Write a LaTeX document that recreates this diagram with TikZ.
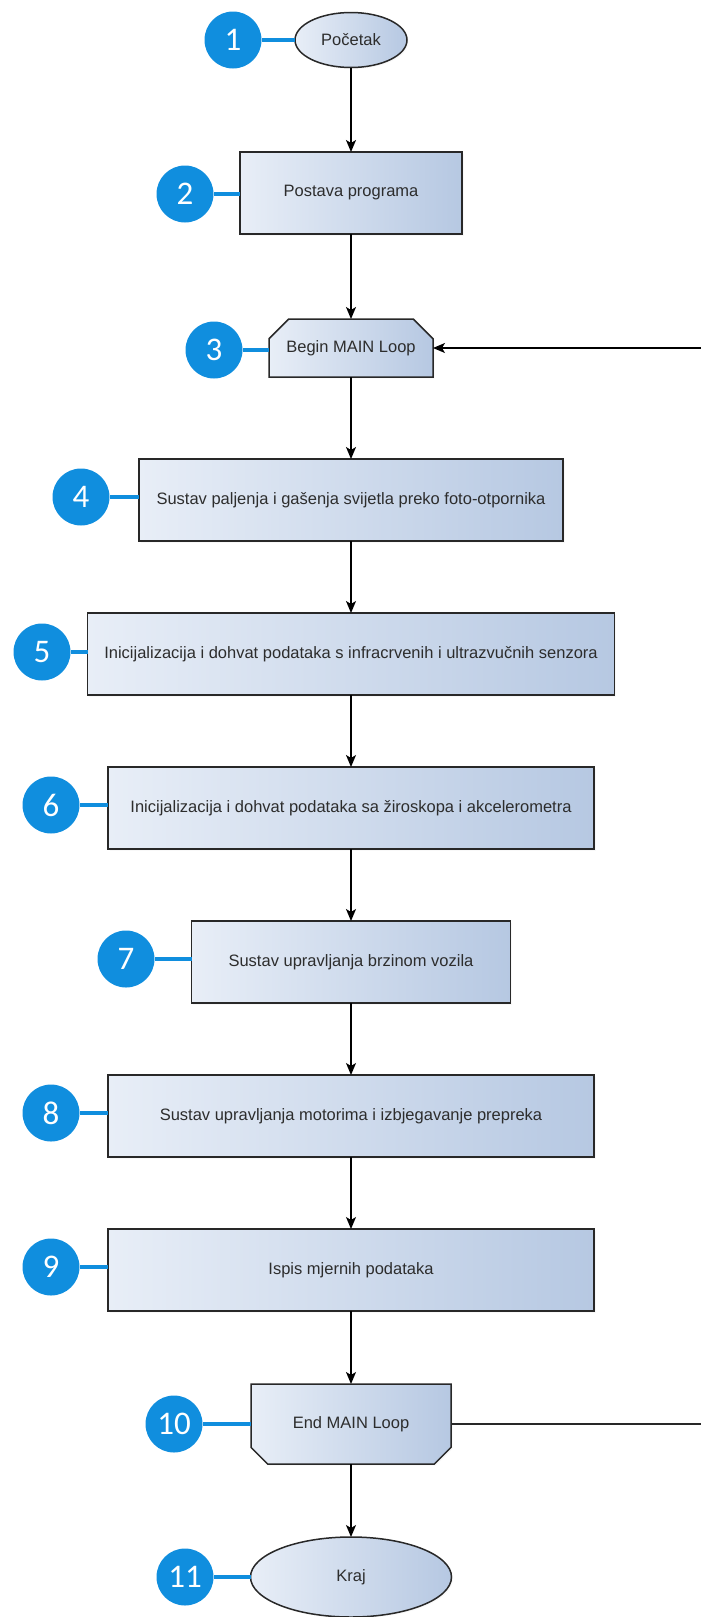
\documentclass[tikz,border=0pt]{standalone}
\usepackage{fontspec}
\setmainfont{Liberation Sans}
\newfontfamily\badgefont{Carlito}
\usetikzlibrary{shapes.geometric,shapes.misc,arrows.meta,shadows}
\definecolor{boxleft}{RGB}{232,238,247}
\definecolor{boxright}{RGB}{182,200,226}
\definecolor{badgeblue}{RGB}{16,142,222}
\definecolor{textgray}{RGB}{45,45,45}
\definecolor{edgegray}{RGB}{40,40,40}
\begin{document}
\begin{tikzpicture}[x=1pt, y=-1pt,
  every node/.style={inner sep=0pt, outer sep=0pt, text=textgray, font=\fontsize{16.5}{20}\selectfont},
  block/.style={draw=edgegray, line width=1.5pt, left color=boxleft, right color=boxright, minimum height=82pt, drop shadow={opacity=0.06, shadow xshift=1.5pt, shadow yshift=-1.5pt}},
  terminal/.style={block, ellipse},
  loopbox/.style={block, chamfered rectangle, chamfered rectangle xsep=12pt, chamfered rectangle ysep=12pt},
  badge/.style={circle, fill=badgeblue, minimum size=57pt, text=white, font=\badgefont\fontsize{33}{33}\selectfont},
  tie/.style={badgeblue, line width=3.5pt},
  flow/.style={-{Stealth[length=12pt, width=10pt, inset=3pt]}, line width=1.5pt, black}]
\useasboundingbox (0,0) rectangle (701,1617);

% Flow chart nodes top to bottom
\node[terminal, minimum width=112pt, minimum height=55pt] (start) at (351,40) {Početak};
\node[block, minimum width=222pt] (setup) at (351,193) {Postava programa};
\node[loopbox, minimum width=164pt, minimum height=58pt, chamfered rectangle corners={north west, north east}] (beginloop) at (351,348) {Begin MAIN Loop};
\node[block, minimum width=424pt] (light) at (351,500) {Sustav paljenja i gašenja svijetla preko foto-otpornika};
\node[block, minimum width=527pt] (sensors) at (351,654) {Inicijalizacija i dohvat podataka s infracrvenih i ultrazvučnih senzora};
\node[block, minimum width=486pt] (gyro) at (351,808) {Inicijalizacija i dohvat podataka sa žiroskopa i akcelerometra};
\node[block, minimum width=319pt] (speed) at (351,962) {Sustav upravljanja brzinom vozila};
\node[block, minimum width=486pt] (motors) at (351,1116) {Sustav upravljanja motorima i izbjegavanje prepreka};
\node[block, minimum width=486pt] (output) at (351,1270) {Ispis mjernih podataka};
\node[loopbox, minimum width=200pt, minimum height=80pt, chamfered rectangle xsep=9pt, chamfered rectangle ysep=9pt, chamfered rectangle corners={south west, south east}] (endloop) at (351,1424) {End MAIN Loop};
\node[terminal, minimum width=201pt, minimum height=80pt] (stop) at (351,1577) {Kraj};

% Numbered badges
\node[badge] (b1) at (233,40) {1};
\node[badge] (b2) at (185,194) {2};
\node[badge] (b3) at (214,350) {3};
\node[badge] (b4) at (81,497) {4};
\node[badge] (b5) at (42,652) {5};
\node[badge] (b6) at (51,805) {6};
\node[badge] (b7) at (126,959) {7};
\node[badge] (b8) at (51,1113) {8};
\node[badge] (b9) at (51,1267) {9};
\node[badge] (b10) at (174,1424) {10};
\node[badge] (b11) at (185,1577) {11};

% Badge ties
\draw[tie] (b1) -- (start.west);
\draw[tie] (b2) -- (b2 -| setup.west);
\draw[tie] (b3) -- (b3 -| beginloop.west);
\draw[tie] (b4) -- (b4 -| light.west);
\draw[tie] (b5) -- (b5 -| sensors.west);
\draw[tie] (b6) -- (b6 -| gyro.west);
\draw[tie] (b7) -- (b7 -| speed.west);
\draw[tie] (b8) -- (b8 -| motors.west);
\draw[tie] (b9) -- (b9 -| output.west);
\draw[tie] (b10) -- (b10 -| endloop.west);
\draw[tie] (b11) -- (stop.west);

% Vertical flow
\draw[flow] (start) -- (setup);
\draw[flow] (setup) -- (beginloop);
\draw[flow] (beginloop) -- (light);
\draw[flow] (light) -- (sensors);
\draw[flow] (sensors) -- (gyro);
\draw[flow] (gyro) -- (speed);
\draw[flow] (speed) -- (motors);
\draw[flow] (motors) -- (output);
\draw[flow] (output) -- (endloop);
\draw[flow] (endloop) -- (stop);

% Loop back lines to the edge
\coordinate (loopin) at (701,348);
\coordinate (loopout) at (701,1424);
\draw[flow, line width=1.2pt] (loopin) -- (beginloop.east);
\draw[line width=1.2pt, edgegray] (endloop.east) -- (loopout);
\end{tikzpicture}
\end{document}
